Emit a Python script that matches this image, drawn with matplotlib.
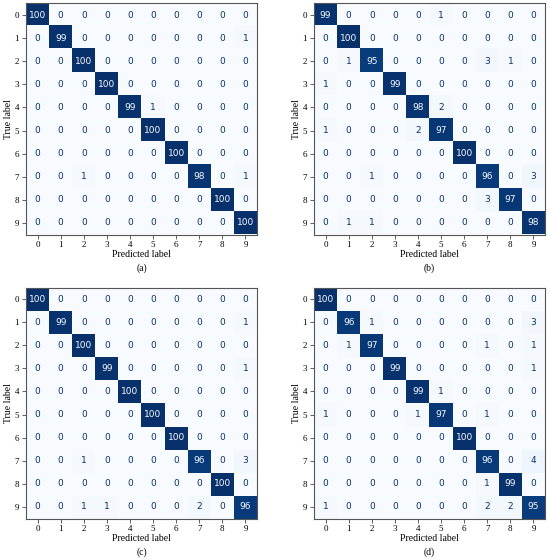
import numpy as np
import matplotlib.pyplot as plt

classes = [str(i) for i in range(10)]

cm_a = [
    [100, 0, 0, 0, 0, 0, 0, 0, 0, 0],
    [0, 99, 0, 0, 0, 0, 0, 0, 0, 1],
    [0, 0, 100, 0, 0, 0, 0, 0, 0, 0],
    [0, 0, 0, 100, 0, 0, 0, 0, 0, 0],
    [0, 0, 0, 0, 99, 1, 0, 0, 0, 0],
    [0, 0, 0, 0, 0, 100, 0, 0, 0, 0],
    [0, 0, 0, 0, 0, 0, 100, 0, 0, 0],
    [0, 0, 1, 0, 0, 0, 0, 98, 0, 1],
    [0, 0, 0, 0, 0, 0, 0, 0, 100, 0],
    [0, 0, 0, 0, 0, 0, 0, 0, 0, 100],
]

cm_b = [
    [99, 0, 0, 0, 0, 1, 0, 0, 0, 0],
    [0, 100, 0, 0, 0, 0, 0, 0, 0, 0],
    [0, 1, 95, 0, 0, 0, 0, 3, 1, 0],
    [1, 0, 0, 99, 0, 0, 0, 0, 0, 0],
    [0, 0, 0, 0, 98, 2, 0, 0, 0, 0],
    [1, 0, 0, 0, 2, 97, 0, 0, 0, 0],
    [0, 0, 0, 0, 0, 0, 100, 0, 0, 0],
    [0, 0, 1, 0, 0, 0, 0, 96, 0, 3],
    [0, 0, 0, 0, 0, 0, 0, 3, 97, 0],
    [0, 1, 1, 0, 0, 0, 0, 0, 0, 98],
]

cm_c = [
    [100, 0, 0, 0, 0, 0, 0, 0, 0, 0],
    [0, 99, 0, 0, 0, 0, 0, 0, 0, 1],
    [0, 0, 100, 0, 0, 0, 0, 0, 0, 0],
    [0, 0, 0, 99, 0, 0, 0, 0, 0, 1],
    [0, 0, 0, 0, 100, 0, 0, 0, 0, 0],
    [0, 0, 0, 0, 0, 100, 0, 0, 0, 0],
    [0, 0, 0, 0, 0, 0, 100, 0, 0, 0],
    [0, 0, 1, 0, 0, 0, 0, 96, 0, 3],
    [0, 0, 0, 0, 0, 0, 0, 0, 100, 0],
    [0, 0, 1, 1, 0, 0, 0, 2, 0, 96],
]

cm_d = [
    [100, 0, 0, 0, 0, 0, 0, 0, 0, 0],
    [0, 96, 1, 0, 0, 0, 0, 0, 0, 3],
    [0, 1, 97, 0, 0, 0, 0, 1, 0, 1],
    [0, 0, 0, 99, 0, 0, 0, 0, 0, 1],
    [0, 0, 0, 0, 99, 1, 0, 0, 0, 0],
    [1, 0, 0, 0, 1, 97, 0, 1, 0, 0],
    [0, 0, 0, 0, 0, 0, 100, 0, 0, 0],
    [0, 0, 0, 0, 0, 0, 0, 96, 0, 4],
    [0, 0, 0, 0, 0, 0, 0, 1, 99, 0],
    [1, 0, 0, 0, 0, 0, 0, 2, 2, 95],
]

captions = ["(a)", "(b)", "(c)", "(d)"]

serif = "Liberation Serif"
cmap = plt.get_cmap("Blues")

fig = plt.figure(figsize=(5.5, 5.6), dpi=100)

# axes boxes in pixels: left, top, right, bottom
boxes = [(26, 3, 257, 235), (314, 3, 545, 235),
         (26, 287, 257, 519), (314, 287, 545, 519)]


def draw_cm(ax, cm, caption):
    cm = np.array(cm)
    ax.imshow(cm, cmap=cmap, vmin=0, vmax=100, interpolation="nearest")
    thresh = 50
    for i in range(cm.shape[0]):
        for j in range(cm.shape[1]):
            color = cmap(0.0) if cm[i, j] > thresh else cmap(1.0)
            ax.text(j, i, str(cm[i, j]), ha="center", va="center",
                    color=color, fontsize=6.5)
    ax.set_xticks(range(10))
    ax.set_yticks(range(10))
    ax.set_xticklabels(classes, fontfamily=serif, fontsize=6.5)
    ax.set_yticklabels(classes, fontfamily=serif, fontsize=6.5)
    ax.tick_params(length=3, width=0.6, pad=2, color="#444444")
    ax.set_xlabel("Predicted label", fontfamily=serif, fontsize=7)
    ax.set_ylabel("True label", fontfamily=serif, fontsize=7)
    ax.xaxis.set_label_coords(0.5, -0.066)
    ax.yaxis.set_label_coords(-0.056, 0.5)
    for s in ax.spines.values():
        s.set_color("#555555")
        s.set_linewidth(0.8)
    ax.text(0.5, -0.144, caption, transform=ax.transAxes, ha="center",
            va="center", fontfamily=serif, fontsize=7)


for (l, t, r, b), cm, cap in zip(boxes, [cm_a, cm_b, cm_c, cm_d], captions):
    ax = fig.add_axes([l / 550, (560 - b) / 560, (r - l) / 550, (b - t) / 560])
    draw_cm(ax, cm, cap)

fig.savefig("out.png", dpi=100)
